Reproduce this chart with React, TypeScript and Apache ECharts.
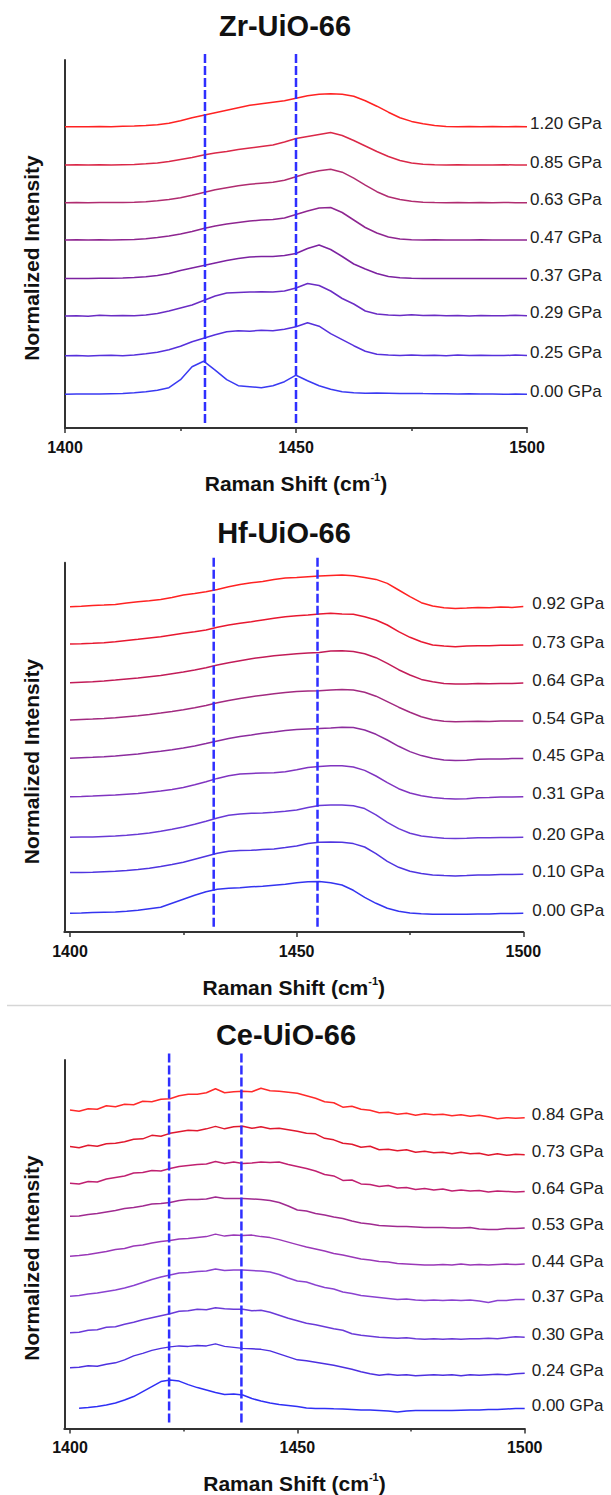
import React, { useEffect, useRef } from "react";
import * as echarts from "echarts";

const FONT = "'Liberation Sans', Arial, Helvetica, sans-serif";

// ---------- data ----------
const ZR_X = [1400, 1402.5, 1405, 1407.5, 1410, 1412.5, 1415, 1417.5, 1420, 1422.5, 1425, 1427.5, 1430, 1432.5, 1435, 1437.5, 1440, 1442.5, 1445, 1447.5, 1450, 1452.5, 1455, 1457.5, 1460, 1462.5, 1465, 1467.5, 1470, 1472.5, 1475, 1477.5, 1480, 1482.5, 1485, 1487.5, 1490, 1492.5, 1495, 1497.5, 1500];
const HF_X = [1400, 1402.5, 1405, 1407.5, 1410, 1412.5, 1415, 1417.5, 1420, 1422.5, 1425, 1427.5, 1430, 1432.5, 1435, 1437.5, 1440, 1442.5, 1445, 1447.5, 1450, 1452.5, 1455, 1457.5, 1460, 1462.5, 1465, 1467.5, 1470, 1472.5, 1475, 1477.5, 1480, 1482.5, 1485, 1487.5, 1490, 1492.5, 1495, 1497.5, 1500];
const CE_X = [1400, 1402, 1404, 1406, 1408, 1410, 1412, 1414, 1416, 1418, 1420, 1422, 1424, 1426, 1428, 1430, 1432, 1434, 1436, 1438, 1440, 1442, 1444, 1446, 1448, 1450, 1452, 1454, 1456, 1458, 1460, 1462, 1464, 1466, 1468, 1470, 1472, 1474, 1476, 1478, 1480, 1482, 1484, 1486, 1488, 1490, 1492, 1494, 1496, 1498, 1500];

const X_TICKS = [1400, 1450, 1500];
const X_MINOR_TICKS = [1425, 1475];

// Zr-UiO-66 (bottom to top)
const ZR_LABELS = ["0.00 GPa", "0.25 GPa", "0.29 GPa", "0.37 GPa", "0.47 GPa", "0.63 GPa", "0.85 GPa", "1.20 GPa"];
const ZR_OFFSETS = [33.8, 72.3, 112, 149.5, 188, 225.3, 263, 301.3];
const ZR_000 = [0, 0.2, 0.3, 0.2, 0.5, 0.8, 1.5, 2.5, 4, 6.5, 14.5, 27.5, 33, 24, 14.5, 8.5, 7.5, 6.5, 8.5, 12.5, 19, 13.5, 8.5, 5, 2.5, 1.5, 1, 1.2, 1, 0.8, 0.8, 0.6, 0.5, 0.4, 0.3, 0.4, 0.3, 0.2, 0, 0.1, 0];
const ZR_025 = [0, 0.3, -0.2, 0.2, 0.5, 0, 0.8, 2, 3.5, 6, 9.5, 14, 17.5, 21, 24, 25, 24.5, 25.5, 25, 26.5, 29, 33, 29.5, 22, 16, 10, 4.5, 1.5, 0.8, 0.3, 0.7, 0.2, 0.5, 0, 0.6, 0.2, 0.5, 0.3, 0.1, 0.6, 0.3];
const ZR_029 = [0, 0.3, -0.3, 0.7, 0.2, 0.5, 0.3, 1, 2.5, 5, 8, 11, 15.5, 20, 23, 23.5, 24, 24.2, 24, 25, 28, 32.5, 30.5, 25, 17.5, 12, 5, 2, 1, 0.5, 1.2, 0.5, 0.8, 0.2, 0.6, 0, 0.5, 0.3, 0.2, 0.8, 0.3];
const ZR_037 = [0, 0.1, 0, 0.2, 0.3, 0.6, 1, 1.8, 3, 5, 8, 10.5, 13, 15.5, 18, 20, 21.5, 22, 22, 23, 25, 30, 33.5, 29, 22, 14.5, 9.5, 5, 2, 0.7, 0.2, 0, 0.1, 0, 0.1, 0, 0.1, 0, 0, 0.1, 0];
const ZR_047 = [0, 0.2, 0, 0.2, 0, 0.3, 0.5, 1.2, 2.5, 4, 6, 8.5, 11.5, 14, 16, 17.5, 19, 20, 20.5, 22, 25.5, 29, 32, 32.5, 27.5, 20, 12.5, 7, 3, 1, 0.3, 0, 0.2, 0, 0.1, 0, 0.2, 0, 0.1, 0, 0];
const ZR_063 = [0, 0.2, 0, 0.3, 0.1, 0.3, 0.5, 1, 2, 3.3, 5, 7.5, 10.3, 13, 15, 17, 18.5, 19.5, 20.5, 22.5, 26, 29.5, 32, 33.5, 30.5, 24.5, 17.5, 11, 6, 3.3, 1.5, 0.5, 0.2, 0, 0.2, 0, 0.1, 0, 0.2, 0, 0];
const ZR_085 = [0, 0.2, 0, 0.2, 0, 0.3, 0.5, 1.2, 2, 3.5, 5.5, 7.5, 10, 12, 13.5, 15.5, 17, 18.5, 20, 23, 26.5, 28.5, 30.5, 32.5, 29.5, 24.5, 19, 13.5, 8.5, 4.5, 2, 0.8, 0.3, 0, 0.2, 0, 0.1, 0, 0.2, 0, 0];
const ZR_120 = [0, 0, 0, 0.3, 0, 0.5, 0.7, 1.3, 2, 3.5, 6, 9, 11.5, 14, 16.5, 19, 21.5, 23, 24.5, 26, 28.5, 31, 32.5, 33, 32.5, 30.5, 26, 20.5, 14.5, 9, 5.3, 3, 1.3, 0.3, 0, 0.2, 0, 0.2, 0, 0.1, 0];
const ZR_VALUES = [ZR_000, ZR_025, ZR_029, ZR_037, ZR_047, ZR_063, ZR_085, ZR_120];
const ZR_DASH = [1430.3, 1450];
const ZR_DASH_RANGE = [5, 375];

// Hf-UiO-66
const HF_LABELS = ["0.00 GPa", "0.10 GPa", "0.20 GPa", "0.31 GPa", "0.45 GPa", "0.54 GPa", "0.64 GPa", "0.73 GPa", "0.92 GPa"];
const HF_OFFSETS = [18.7, 57.7, 94.7, 135.3, 173.7, 211.3, 249.3, 287, 325.3];
const HF_000 = [0, 0.3, 0.7, 1, 1.3, 2, 3, 4.5, 6, 10, 14, 18, 21.5, 24, 25, 25.5, 26.5, 27, 28, 29, 30.5, 31.5, 31.7, 30.5, 28.3, 23, 16, 10, 5, 2, 0.3, -0.5, -1, -1, -1, -1, -0.7, -0.7, -0.3, -0.3, 0];
const HF_010 = [1.7, 1.8, 2, 2.5, 3, 3.8, 4.7, 6, 7.7, 9.7, 12, 15, 18, 21, 23, 23.7, 24, 24.7, 25.3, 26.7, 28.3, 30.7, 32, 32.3, 32, 30.7, 27.3, 20.7, 13, 7, 3, 0.7, -0.7, -1.3, -1.7, -1.3, -0.7, -0.7, -0.3, -0.3, 0];
const HF_020 = [0, 0.2, 0.3, 0.8, 1.3, 2, 3, 4.3, 6, 8, 10.3, 13, 16, 19.3, 22, 23.3, 24, 24.3, 25, 26, 27.3, 29.7, 31.7, 32.3, 32.3, 31.5, 28.7, 22.5, 15, 8.7, 4, 1.3, 0, -1, -1.3, -1, -0.5, -0.5, -0.3, -0.3, 0];
const HF_031 = [0, 0.3, 0.7, 1.2, 1.7, 2.5, 3.3, 4.5, 5.7, 7.3, 9.3, 12, 15, 18.3, 21, 22.7, 23.3, 23.7, 24, 25, 27, 29.3, 30.3, 31, 31, 29.7, 26.3, 20.7, 14, 8, 3.7, 1, -0.7, -1.7, -2.3, -2, -1, -0.7, -0.3, -0.3, 0];
const HF_045 = [0, 0.5, 1, 1.6, 2.3, 3.3, 4.3, 5.7, 7, 8.5, 10.3, 12.3, 14.7, 17.3, 19.7, 21.7, 23.3, 25, 26.3, 27.7, 28.7, 29.3, 29.7, 30.3, 31, 30.7, 28.3, 24, 18.3, 12, 6.7, 2.7, 0, -1.7, -2.3, -2, -1, -0.7, -0.7, -0.3, -0.3];
const HF_054 = [0.7, 1.2, 1.7, 2.3, 3, 4, 5, 6.3, 7.7, 9.3, 11, 13, 15.3, 18, 20.3, 22.3, 24, 25.5, 27, 28.3, 29.3, 29.7, 30, 30.7, 31.3, 30.7, 28.5, 24.5, 19, 13.5, 8.5, 4, 1, -0.5, -1, -0.7, -0.5, -0.7, -0.3, -0.3, -0.3];
const HF_064 = [0, 0.5, 1, 1.8, 2.7, 3.7, 4.7, 6, 7.3, 9, 10.7, 12.7, 15, 17.7, 20, 22, 24, 25.5, 27, 28, 29, 29.7, 30.3, 31.7, 32, 31.3, 29, 25, 19.3, 13, 7.7, 3.3, 1, -0.7, -1.3, -1.3, -0.7, -1, -0.7, -0.7, -0.3];
const HF_073 = [1, 1.3, 1.7, 2.3, 3.3, 4.5, 5.7, 7, 8.3, 10, 11.7, 13.3, 15, 17.7, 20, 21.7, 23.3, 25, 26.7, 28.3, 29.3, 30, 31, 31.7, 31, 30.7, 28.3, 25, 20, 13.3, 7.7, 3.3, 0, -1, -1.7, -1, -0.7, -0.7, -0.3, -0.3, 0];
const HF_092 = [0, 0.5, 1.3, 1.7, 2.3, 3.7, 5, 6, 7.3, 9.3, 11.7, 13.3, 15, 17.3, 20, 22.3, 24, 25.3, 27.3, 28.7, 29.3, 30, 30.7, 31.3, 31.7, 31, 29.3, 27.3, 23.3, 16.7, 10, 4, 0.7, -1, -1.7, -1.3, -0.7, -1, -0.3, -0.7, 0.3];
const HF_VALUES = [HF_000, HF_010, HF_020, HF_031, HF_045, HF_054, HF_064, HF_073, HF_092];
const HF_DASH = [1431.7, 1454.6];
const HF_DASH_RANGE = [5.3, 375.3];

// Ce-UiO-66
const CE_LABELS = ["0.00 GPa", "0.24 GPa", "0.30 GPa", "0.37 GPa", "0.44 GPa", "0.53 GPa", "0.64 GPa", "0.73 GPa", "0.84 GPa"];
const CE_OFFSETS = [20, 54.3, 91, 129.3, 164.3, 201, 237.6, 274.3, 311];
const CE_000 = [null, 0.3, 1, 2, 3.5, 5.5, 8.5, 12, 17, 22, 27, 28.5, 27.5, 24, 21, 18.5, 16, 14, 14.5, 13.5, 10, 7.5, 5.5, 4, 3, 2, 0.5, 0, 0, -0.3, -0.5, -1, -1.5, -1.5, -2, -2.5, -3.5, -2.5, -2, -2, -2, -2, -2, -1.7, -1.5, -1.5, -1, -1, -0.5, 0, 0];
const CE_024 = [6.7, 7, 8.5, 8, 10, 11.5, 14.5, 18.5, 21, 24, 26, 27.5, 28.5, 28, 29, 28.5, 30.5, 28, 27, 26, 25.5, 25, 23.5, 20.5, 17.5, 14.5, 13.5, 12, 10.5, 9, 7, 5, 2.5, 0.5, -1, 0, -1, -0.5, -1.5, -1, -0.5, -1, -0.5, -1.5, -0.5, -1, -0.5, 0, -0.5, 0.5, 1];
const CE_030 = [5, 5.5, 7.5, 8, 10.5, 11, 13.5, 15.5, 18, 20, 22, 24, 26.5, 27, 28.5, 28, 30, 29, 28.5, 28.5, 27, 27.5, 25.5, 22.5, 19.5, 17, 14.5, 13, 11, 9, 7.5, 4, 2.5, 1.5, 0.5, 0, -0.5, 0, -1, -1.5, -1, -1.5, -1, -1.5, -1, -1, -0.5, -1, 0, 1, 0.5];
const CE_037 = [3.3, 4, 5.5, 6.5, 8, 9.5, 11.5, 14, 17, 20, 22.5, 24.5, 26.5, 27, 28, 28.5, 30.5, 29, 29.5, 29.5, 29, 28.5, 27.5, 25, 21.5, 18.5, 17.5, 14.5, 12, 10.5, 7.5, 6, 4, 3, 2, 1, 0, 0.5, -0.5, -1, -0.5, -1, -0.5, -1, -0.5, -1.5, -3, -1, -1, 0, 0];
const CE_044 = [8.3, 9, 10, 11.5, 13, 15, 16, 18.5, 19.5, 21.5, 23, 24, 25.5, 26, 27, 28, 30.5, 28.5, 29.5, 29, 29.5, 28, 27, 25, 22.5, 20, 17.5, 15.5, 13.5, 11, 9.5, 7.5, 5.5, 4.5, 3, 2.5, 1, 0.5, 0, -0.5, -0.5, 0, -0.5, 0.5, -0.5, 0, -0.5, 0, 0.5, 0, 0.5];
const CE_053 = [11.7, 12, 13.5, 14.5, 16, 17.5, 19.5, 20.5, 22, 24, 24.5, 25.5, 27.5, 28.5, 28.5, 29, 31, 29.5, 29.5, 29.5, 29, 28.5, 27.5, 25.5, 22, 18, 17, 14.5, 13, 11, 9.5, 7, 5, 4, 2.5, 2, 1.5, 1.5, 1, 0.5, 0.5, 0.5, 0, 0, 0.5, -1, -1.5, -1.5, -0.5, -0.5, 0];
const CE_064 = [8.3, 7.5, 10, 9.5, 12.5, 14, 15.5, 18.5, 19, 21, 20.5, 23, 25, 26, 27, 27.5, 30, 28, 29.5, 28, 28.5, 29.5, 29, 29.5, 27, 25, 23, 20.5, 17, 15.5, 11, 11.5, 7.5, 7, 5, 6, 3.5, 4, 2, 3, 1.5, 2.5, 0.5, 1.5, 0.5, 1, -0.5, 0.5, 0, -0.5, 0];
const CE_073 = [8.3, 7, 9.5, 8.5, 11, 11.5, 13, 15.5, 16, 19.5, 18.5, 21.5, 23, 24.5, 24, 26, 28.5, 26, 28, 28.5, 26.5, 28, 26, 26.5, 25, 23.5, 21.5, 21, 16.5, 15, 11.5, 10.5, 7.5, 8.5, 5, 5.5, 4, 5, 2.5, 3.5, 2, 2.5, 1, 2.5, 1, 1.5, -0.5, 1, -0.5, 0.5, 0];
const CE_084 = [8.3, 7, 9.5, 9, 12.5, 11.5, 14, 13.5, 17, 16.5, 19, 19.5, 22.5, 24, 24, 25.5, 29.5, 25.5, 26.5, 27, 26.5, 30, 27.5, 27, 26, 25, 22.5, 20, 16.5, 15.5, 11, 12, 9, 8, 5.5, 6, 4, 5, 3, 4.5, 3.5, 4, 2.5, 3.5, 2, 3, 1.5, -0.5, 0.5, 0, 0.5];
const CE_VALUES = [CE_000, CE_024, CE_030, CE_037, CE_044, CE_053, CE_064, CE_073, CE_084];
const CE_DASH = [1421.8, 1437.7];
const CE_DASH_RANGE = [6, 376.6];

// ---------- styles / layout ----------
const ZR_COLORS = ["#3a3af2", "#5630dc", "#6a2cc4", "#7c22a0", "#8e2590", "#b02c70", "#da2848", "#ff2222"];
const HF_COLORS = ["#3434f0", "#4f35e0", "#6a3ad5", "#8034c0", "#8c2c9e", "#a22a80", "#c21c58", "#e81830", "#ff2222"];
const CE_COLORS = ["#2f2ff5", "#4d30e0", "#6a3ad8", "#8a42d0", "#9a38b8", "#a02a90", "#c02070", "#e0182e", "#ff2a2a"];

const PANELS = [
  { title: "Zr-UiO-66", xs: ZR_X, values: ZR_VALUES, offsets: ZR_OFFSETS, labels: ZR_LABELS, colors: ZR_COLORS, dash: ZR_DASH, dashRange: ZR_DASH_RANGE,
    left: 65, top: 60, width: 462, height: 368, xMin: 1400, titleX: 285, titleY: 25.5, yNameY: 258, labelDist: 3 },
  { title: "Hf-UiO-66", xs: HF_X, values: HF_VALUES, offsets: HF_OFFSETS, labels: HF_LABELS, colors: HF_COLORS, dash: HF_DASH, dashRange: HF_DASH_RANGE,
    left: 64.3, top: 562.7, width: 459, height: 369.3, xMin: 1398.74, titleX: 284, titleY: 533.3, yNameY: 761.5, labelDist: 9 },
  { title: "Ce-UiO-66", xs: CE_X, values: CE_VALUES, offsets: CE_OFFSETS, labels: CE_LABELS, colors: CE_COLORS, dash: CE_DASH, dashRange: CE_DASH_RANGE,
    left: 64.3, top: 1060, width: 460.4, height: 369.3, xMin: 1398.75, titleX: 286, titleY: 1034.7, yNameY: 1258, labelDist: 7 },
];

const AXIS_COLOR = "#333";

function buildOption() {
  const grid = PANELS.map((p) => ({ left: p.left, top: p.top, width: p.width, height: p.height, containLabel: false }));
  const mainX = PANELS.map((p, i) => ({
    type: "value", gridIndex: i, min: p.xMin, max: 1500, position: "bottom",
    axisLine: { show: true, onZero: false, lineStyle: { color: AXIS_COLOR, width: 2 } },
    axisTick: { show: true, customValues: X_TICKS, length: 5, lineStyle: { color: AXIS_COLOR, width: 1.5 } },
    axisLabel: {
      show: true, customValues: X_TICKS, margin: 11, color: "#111", fontSize: 16, fontWeight: "bold", fontFamily: FONT,
      formatter: (v: number) => String(v),
    },
    splitLine: { show: false },
    name: "{a|Raman Shift (cm}{s|-1}{a|)}",
    nameLocation: "middle", nameGap: 43,
    nameTextStyle: {
      rich: {
        a: { fontSize: 21, fontWeight: "bold", fontFamily: FONT, color: "#111", lineHeight: 24 },
        s: { fontSize: 11, fontWeight: "bold", fontFamily: FONT, color: "#111", verticalAlign: "top", lineHeight: 12 },
      },
    },
  }));
  const minorX = PANELS.map((p, i) => ({
    type: "value", gridIndex: i, min: p.xMin, max: 1500, position: "bottom", offset: 0,
    axisLine: { show: false, onZero: false },
    axisTick: { show: true, customValues: X_MINOR_TICKS, length: 3, lineStyle: { color: AXIS_COLOR, width: 1.5 } },
    axisLabel: { show: false },
    splitLine: { show: false },
  }));
  const yAxis = PANELS.map((p, i) => ({
    type: "value", gridIndex: i, min: 0, max: p.height,
    axisLine: { show: true, onZero: false, lineStyle: { color: AXIS_COLOR, width: 2 } },
    axisTick: { show: false }, axisLabel: { show: false }, splitLine: { show: false },
  }));

  const series: any[] = [];
  PANELS.forEach((p, i) => {
    p.values.forEach((vals, j) => {
      const data = p.xs
        .map((x, k) => (vals[k] == null ? null : [x, p.offsets[j] + (vals[k] as number)]))
        .filter((d) => d !== null);
      series.push({
        type: "line", xAxisIndex: i, yAxisIndex: i, data,
        symbol: "none", showSymbol: false, silent: true,
        lineStyle: { color: p.colors[j], width: 1.5 },
        endLabel: {
          show: true, formatter: () => p.labels[j], distance: p.labelDist, offset: [0, -3],
          color: "#222", fontSize: 17, fontFamily: FONT,
        },
        z: 2,
      });
    });
    p.dash.forEach((d) => {
      series.push({
        type: "line", xAxisIndex: i, yAxisIndex: i,
        data: [[d, p.dashRange[0]], [d, p.dashRange[1]]],
        symbol: "none", showSymbol: false, silent: true, clip: false,
        lineStyle: { color: "#2f2fff", width: 2.5, type: [9, 3] },
        z: 3,
      });
    });
  });

  const graphic: any[] = [];
  PANELS.forEach((p) => {
    graphic.push({
      type: "text", x: p.titleX, y: p.titleY, silent: true,
      style: { text: p.title, font: `bold 29px ${FONT}`, fill: "#111", textAlign: "center", textVerticalAlign: "middle" },
    });
    graphic.push({
      type: "text", x: 31, y: p.yNameY, rotation: Math.PI / 2, silent: true,
      style: { text: "Normalized Intensity", font: `bold 21px ${FONT}`, fill: "#111", textAlign: "center", textVerticalAlign: "middle" },
    });
  });
  graphic.push({
    type: "line", silent: true,
    shape: { x1: 7, y1: 1005.5, x2: 611, y2: 1005.5 },
    style: { stroke: "#d6d6d6", lineWidth: 1.5 },
  });

  return {
    animation: false,
    backgroundColor: "#ffffff",
    grid,
    xAxis: [...mainX, ...minorX],
    yAxis,
    series,
    graphic,
  };
}

export default function App() {
  const ref = useRef<HTMLDivElement>(null);
  useEffect(() => {
    if (!ref.current) return;
    const chart = echarts.init(ref.current, null, { renderer: "svg" });
    chart.setOption(buildOption() as any);
    return () => chart.dispose();
  }, []);
  return (
    <div
      ref={ref}
      style={{ position: "absolute", left: 0, top: 0, width: 611, height: 1495, background: "#fff" }}
    />
  );
}
